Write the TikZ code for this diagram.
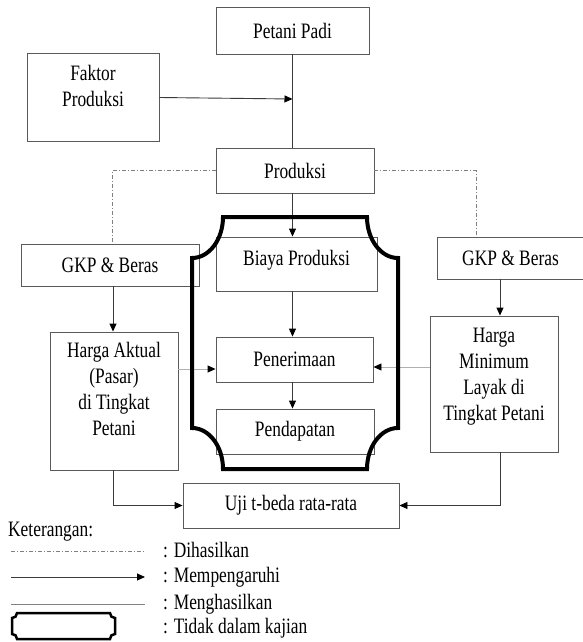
\documentclass[tikz,border=0pt]{standalone}
\usepackage{fontspec}
\usepackage{graphicx}
\setmainfont{Liberation Serif}
\usetikzlibrary{arrows.meta,calc}
\definecolor{boxgray}{HTML}{5A5A5A}
\definecolor{linegray}{HTML}{3A3A3A}
\definecolor{lightline}{HTML}{B0B0B0}
\definecolor{dashgray}{HTML}{808080}
\newcommand{\txtfont}{\fontsize{22}{26}\selectfont}
\newcommand{\sq}[1]{\scalebox{0.79}[1]{#1}}
\newcommand{\sqm}[1]{\scalebox{0.79}[1]{\begin{tabular}{@{}c@{}}#1\end{tabular}}}
\begin{document}
\begin{tikzpicture}[x=1pt,y=-1pt,
 box/.style={draw=boxgray,line width=0.9pt,inner sep=0pt,align=center,font=\txtfont},
 txt/.style={inner sep=0pt,align=center,font=\txtfont},
 arr/.style={draw=linegray,line width=0.9pt,-{Triangle[length=8pt,width=7pt,color=black]}},
 plain/.style={draw=linegray,line width=0.9pt},
 grayarr/.style={draw=lightline,line width=0.9pt,-{Triangle[length=8pt,width=7pt,color=black]}},
 dashdot/.style={draw=dashgray,line width=0.9pt,dash pattern=on 4pt off 2pt on 1pt off 2pt},
 plaque/.style={draw=black,line width=4pt,line join=miter}]
\useasboundingbox (0,0) rectangle (582,642);

% boxes
\node[box,minimum width=153pt,minimum height=47pt] (petani) at (292.5,30.5) {\sq{Petani Padi}};
\node[box,minimum width=132pt,minimum height=88pt] (faktor) at (93,97.5) {};
\node[txt] (faktortxt) at (93,88.5) {\sqm{Faktor\\Produksi}};
\node[box,minimum width=158pt,minimum height=45pt] (produksi) at (295,170.5) {\sq{Produksi}};
\node[box,minimum width=178pt,minimum height=42pt] (gkpL) at (110,265) {\sq{GKP \& Beras}};
\node[box,minimum width=147pt,minimum height=42pt] (gkpR) at (510.5,258) {\sq{GKP \& Beras}};
\node[box,minimum width=161pt,minimum height=54pt] (biaya) at (296.5,264) {};
\node[txt] (biayatxt) at (296.5,260) {\sq{Biaya Produksi}};
\node[box,minimum width=157pt,minimum height=45pt] (penerimaan) at (294.5,359.5) {\sq{Penerimaan}};
\node[box,minimum width=158pt,minimum height=45pt] (pendapatan) at (295,431.5) {\sq{Pendapatan}};
\node[box,minimum width=128pt,minimum height=138pt] (aktual) at (114,401) {};
\node[txt] (aktualtxt) at (114,391.5) {\sqm{Harga Aktual\\(Pasar)\\di Tingkat\\Petani}};
\node[box,minimum width=128pt,minimum height=136pt] (minimum) at (494,384) {};
\node[txt] (minimumtxt) at (494,376) {\sqm{Harga\\Minimum\\Layak di\\Tingkat Petani}};
\node[box,minimum width=216pt,minimum height=45pt] (uji) at (291,505.5) {\sq{Uji t-beda rata-rata}};

% connectors
\coordinate (join) at (petani.south |- faktor.east);
\draw[plain] (petani.south) -- (produksi.north -| petani.south);
\draw[arr] (faktor.east) -- ([yshift=-1.5pt]join);
\draw[arr] (produksi.south -| petani.south) -- (biaya.north -| petani.south);
\draw[arr] (biaya.south -| petani.south) -- (penerimaan.north -| petani.south);
\draw[arr] (penerimaan.south -| petani.south) -- (pendapatan.north -| petani.south);

\coordinate (dl) at (112,170.5);
\coordinate (dr) at (476,170.5);
\draw[dashdot] (produksi.west) -- (dl) -- (dl |- gkpL.north);
\draw[dashdot] (produksi.east) -- (dr) -- (dr |- gkpR.north);

\coordinate (gkpLx) at (113,0);
\draw[arr] (gkpL.south -| gkpLx) -- (aktual.north -| gkpLx);
\coordinate (gkpRx) at (500,0);
\draw[arr] (gkpR.south -| gkpRx) -- (minimum.north -| gkpRx);

\draw[grayarr] (aktual.east |- 0,369) -- (penerimaan.west |- 0,369);
\draw[grayarr] (minimum.west |- 0,367) -- (penerimaan.east |- 0,367);

\draw[arr] (aktual.south -| gkpLx) |- (uji.west);
\draw[arr] (minimum.south -| gkpRx) |- (uji.east);

% not-studied frame (plaque)
\draw[plaque] (223,217) -- (367,217)
  .. controls (367,239.6) and (380.9,258) .. (398,258) -- (398,428)
  .. controls (380.9,428) and (367,446.4) .. (367,469) -- (223,469)
  .. controls (223,446.4) and (209.1,428) .. (192,428) -- (192,258)
  .. controls (209.1,258) and (223,239.6) .. (223,217) -- cycle;

% legend
\node[txt,anchor=west] (ket) at (8,532) {\sq{Keterangan:}};
\coordinate (l1a) at (11,551); \coordinate (l1b) at (145,551);
\coordinate (l2a) at (11,577); \coordinate (l2b) at (145,577);
\coordinate (l3a) at (11,604); \coordinate (l3b) at (145,604);
\draw[dashdot] (l1a) -- (l1b);
\draw[arr] (l2a) -- (l2b);
\draw[plain,draw=gray] (l3a) -- (l3b);
\draw[black,line width=2.5pt] (17,613) -- (110,613) .. controls (110,616) and (112,618) .. (115,618)
  -- (115,634) .. controls (112,634) and (110,636) .. (110,639) -- (17,639)
  .. controls (17,636) and (15,634) .. (12,634) -- (12,618) .. controls (15,618) and (17,616) .. (17,613) -- cycle;
\node[txt,anchor=west] (k1) at (163,550) {\sq{: Dihasilkan}};
\node[txt,anchor=west] (k2) at (163,577) {\sq{: Mempengaruhi}};
\node[txt,anchor=west] (k3) at (163,604) {\sq{: Menghasilkan}};
\node[txt,anchor=west] (k4) at (163,628) {\sq{: Tidak dalam kajian}};
\end{tikzpicture}
\end{document}
